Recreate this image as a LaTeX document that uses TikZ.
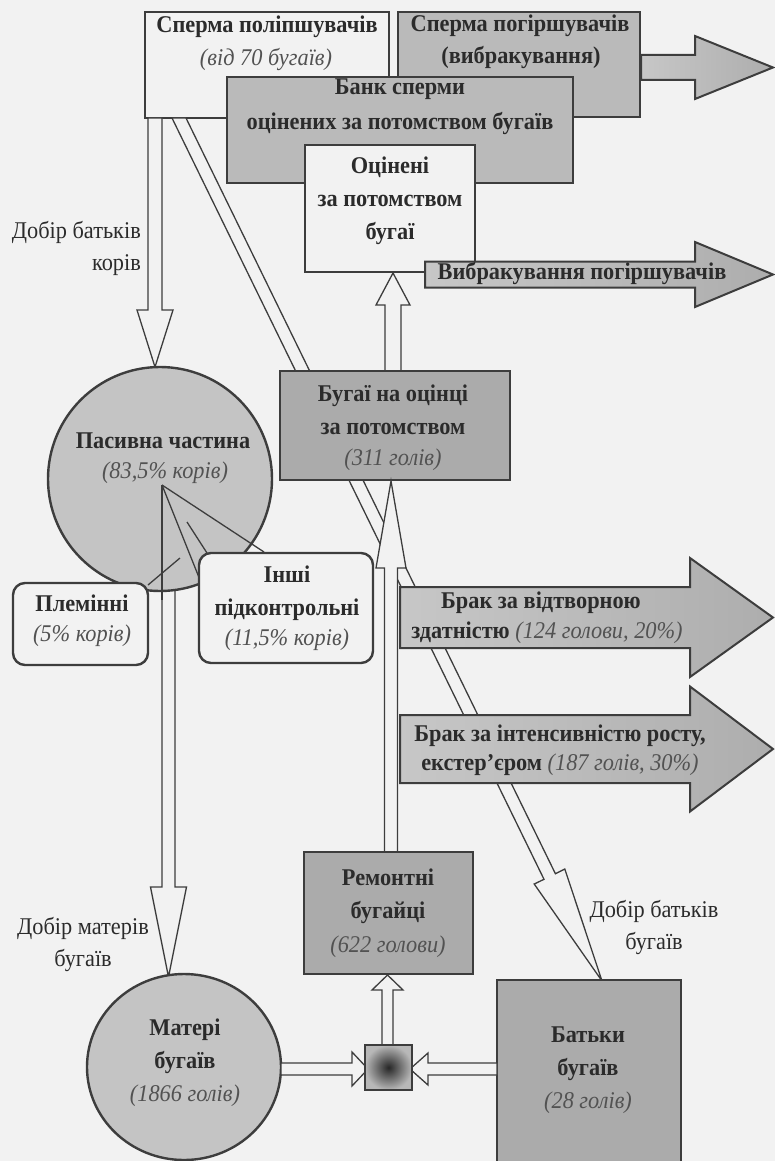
\documentclass[tikz,border=0pt]{standalone}
\usepackage{fontspec}
\setmainfont{Liberation Serif}[FakeStretch=0.93]
\usetikzlibrary{shapes.geometric}
\definecolor{lc}{gray}{0.24}
\definecolor{bg}{gray}{0.95}
\definecolor{sh}{gray}{0.73}
\definecolor{shd}{gray}{0.67}
\definecolor{cir}{gray}{0.77}
\definecolor{tx}{gray}{0.17}
\definecolor{txi}{gray}{0.32}
\newcommand{\ArrowR}[7]{\path[#7] (#1,{#2-#5}) -- (#3,{#2-#5}) -- (#3,{#2-#6}) -- (#4,#2) -- (#3,{#2+#6}) -- (#3,{#2+#5}) -- (#1,{#2+#5}) -- cycle;}
\newcommand{\ArrowV}[7]{\path[#7] ({#1-#5},#2) -- ({#1-#5},#3) -- ({#1-#6},#3) -- (#1,#4) -- ({#1+#6},#3) -- ({#1+#5},#3) -- ({#1+#5},#2) -- cycle;}
\begin{document}
\begin{tikzpicture}[x=1pt,y=-1pt,
  boxw/.style={draw=lc, line width=2.4pt, fill=bg, inner sep=0pt},
  boxs/.style={draw=lc, line width=2.4pt, fill=sh, inner sep=0pt},
  boxd/.style={draw=lc, line width=2.4pt, fill=shd, inner sep=0pt},
  rbox/.style={boxw, rounded corners=12pt},
  big/.style={draw=lc, line width=2pt, left color=black!22, right color=black!32, line join=miter},
  holl/.style={draw=lc, line width=1.3pt, fill=bg, line join=miter},
  thin/.style={draw=lc, line width=1.3pt},
  bt/.style={font=\fontsize{24}{33}\selectfont\bfseries, text=tx, align=center, inner sep=0pt},
  it/.style={font=\fontsize{24}{33}\selectfont\itshape, text=txi, align=center, inner sep=0pt},
  pt/.style={font=\fontsize{24}{32}\selectfont, text=tx, inner sep=0pt},
]
\fill[bg] (0,0) rectangle (775,1161);
\useasboundingbox (0,0) rectangle (775,1161);

% top boxes
\node[boxs, minimum width=242pt, minimum height=105pt] (b2) at (519,64.5) {};
\ArrowR{641}{67.5}{695}{773}{12.5}{31.5}{big}
\node[boxw, minimum width=244pt, minimum height=106pt] (b1) at (267,65) {};
\node[boxs, minimum width=346pt, minimum height=106pt] (bank) at (400,130) {};
\node[boxw, minimum width=170pt, minimum height=127pt] (ocin) at (390,208.5) {};
\ArrowR{425}{274.5}{695}{773}{13}{32.5}{big}

% long diagonal band from b1 to Batky
\path[holl] (172,118) -- (186,118) -- (555.4,873.7) -- (564.8,869) -- (602,981) -- (534.2,884) -- (544,879.3) -- cycle;

% Dobir batkiv koriv arrow
\ArrowV{155}{118}{310}{367}{7}{18}{holl}
% arrow to Materi
\ArrowV{168.5}{560}{887}{977}{6.5}{18}{holl}

% passive part circle
\node[draw=lc, line width=2.4pt, fill=cir, circle, minimum size=224pt, inner sep=0pt] (pas) at (160,479) {};

% up arrow to Otsineni
\ArrowV{393}{371}{305}{273}{8}{17}{holl}
\node[boxd, minimum width=230pt, minimum height=109pt] (bug) at (395,425.5) {};
% long up arrow from Remontni
\ArrowV{391}{852}{568}{481}{6.5}{15}{holl}

% brak arrows
\ArrowR{400}{617.5}{690}{773}{30.5}{59.5}{big}
\ArrowR{400}{749}{690}{773}{34}{62.5}{big}

% wedge lines
\coordinate (apex) at (162,485);
\draw[thin] (apex) -- (264,552);
\draw[thin] (apex) -- (200,580);
\draw[thin] (187,522) -- (207,553);
\draw[thin] (180,558) -- (148,585);
\draw[thin] (apex) -- (162,600);

\node[rbox, minimum width=135pt, minimum height=82pt] (plem) at (80.5,624) {};
\node[rbox, minimum width=174pt, minimum height=110pt] (inshi) at (286,608) {};

% bottom
\node[boxd, minimum width=169pt, minimum height=122pt] (rem) at (388.5,913) {};
\node[draw=lc, line width=2.4pt, fill=cir, ellipse, minimum width=194pt, minimum height=186pt, inner sep=0pt] (mat) at (184,1067) {};
\node[boxd, minimum width=184pt, minimum height=200pt] (bat) at (589,1080) {};

\ArrowR{281}{1069}{352}{368}{6}{17}{holl}
\ArrowR{497}{1069}{428}{410}{6}{16}{holl}
\ArrowV{387.5}{1045}{990}{975}{5.5}{15.5}{holl}
\node[draw=lc, line width=2.2pt, minimum width=47pt, minimum height=45pt, inner sep=0pt, inner color=black!85, outer color=black!28] (mix) at (388.5,1067.5) {};

% texts
\node[bt] (t1a) at (267,27) {Сперма поліпшувачів};
\node[it] (t1b) at (266,60) {(від 70 бугаїв)};
\node[bt] (t2a) at (520,26) {Сперма погіршувачів};
\node[bt] (t2b) at (521,58) {(вибракування)};
\node[bt] (t3a) at (400,89) {Банк сперми};
\node[bt] (t3b) at (400,124) {оцінених за потомством бугаїв};
\node[bt] (t4) at (390,201) {Оцінені\\за потомством\\бугаї};
\node[bt] (t5) at (582,273) {Вибракування погіршувачів};
\node[pt, align=right, anchor=east] (t6) at (141,248) {Добір батьків\\корів};
\node[bt] (t7) at (393,410) {Бугаї на оцінці\\за потомством};
\node[it] (t7b) at (393,460) {(311 голів)};
\node[bt] (t8a) at (163,441) {Пасивна частина};
\node[it] (t8b) at (165,473) {(83,5\% корів)};
\node[bt] (t9a) at (82,603) {Племінні};
\node[it] (t9b) at (82,636) {(5\% корів)};
\node[bt] (t10) at (287,593) {Інші\\підконтрольні};
\node[it] (t10b) at (287,640) {(11,5\% корів)};
\node[bt] (t11a) at (541,603) {Брак за відтворною};
\node[bt] (t11b) at (547,633) {здатністю {\mdseries\itshape\color{txi}(124 голови, 20\%)}};
\node[bt] (t12a) at (560,736) {Брак за інтенсивністю росту,};
\node[bt] (t12b) at (560,765) {екстер’єром {\mdseries\itshape\color{txi}(187 голів, 30\%)}};
\node[bt] (t13) at (388,896) {Ремонтні\\бугайці};
\node[it] (t13b) at (388,947) {(622 голови)};
\node[bt] (t14) at (185,1046) {Матері\\бугаїв};
\node[it] (t14b) at (185,1096) {(1866 голів)};
\node[bt] (t15) at (588,1054) {Батьки\\бугаїв};
\node[it] (t15b) at (588,1103) {(28 голів)};
\node[pt, align=center] (t16) at (83,944) {Добір матерів\\бугаїв};
\node[pt, align=center] (t17) at (654,927) {Добір батьків\\бугаїв};
\end{tikzpicture}
\end{document}
